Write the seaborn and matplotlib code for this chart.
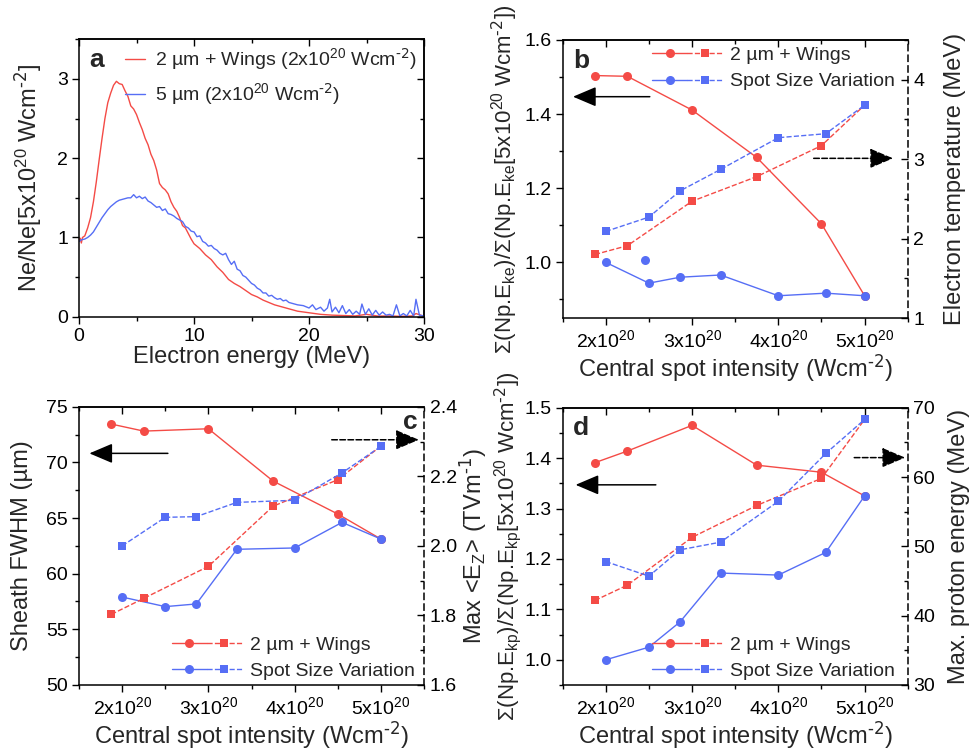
import matplotlib
matplotlib.use("Agg")
import matplotlib.pyplot as plt
import seaborn as sns
from matplotlib.lines import Line2D
from matplotlib.legend_handler import HandlerTuple
from matplotlib.ticker import MultipleLocator

# ---- data ----
# panel a: electron spectra normalised to the 5e20 case
energy_red = [0.0, 0.1, 0.2, 0.3, 0.5, 0.75, 1.0, 1.25, 1.5, 1.75, 2.0, 2.25, 2.5, 2.75, 3.0, 3.25,
              3.5, 3.75, 4.0, 4.25, 4.5, 4.75, 5.0, 5.25, 5.5, 5.75, 6.0, 6.25, 6.5, 6.75, 7.0, 7.25,
              7.5, 7.75, 8.0, 8.25, 8.5, 8.75, 9.0, 9.25, 9.5, 9.75, 10.0, 10.5, 11.0, 11.5, 12.0,
              12.5, 13.0, 13.5, 14.0, 14.5, 15.0, 15.5, 16.0, 16.5, 17.0, 17.5, 18.0, 18.5, 19.0,
              19.5, 20.0, 21.0, 22.0, 23.0, 24.0, 25.0, 26.0, 27.0, 28.0, 29.0, 29.3, 30.0]
ne_red = [0.97, 0.99, 0.93, 1.0, 1.02, 1.12, 1.25, 1.45, 1.7, 1.98, 2.25, 2.5, 2.7, 2.82, 2.92, 2.97,
          2.94, 2.93, 2.85, 2.78, 2.66, 2.62, 2.55, 2.45, 2.36, 2.25, 2.17, 2.05, 1.97, 1.85, 1.68, 1.63,
          1.6, 1.55, 1.45, 1.38, 1.33, 1.25, 1.15, 1.12, 1.05, 0.98, 0.92, 0.86, 0.78, 0.72, 0.63,
          0.56, 0.47, 0.42, 0.38, 0.33, 0.28, 0.25, 0.21, 0.18, 0.15, 0.13, 0.11, 0.09, 0.07,
          0.06, 0.05, 0.03, 0.02, 0.015, 0.01, 0.03, 0.008, 0.01, 0.005, 0.01, 0.04, 0.005]

energy_blue = [0.0, 0.2, 0.5, 0.75, 1.0, 1.25, 1.5, 1.75, 2.0, 2.25, 2.5, 2.75, 3.0, 3.25, 3.5, 3.75,
               4.0, 4.25, 4.5, 4.75, 5.0, 5.25, 5.5, 5.75, 6.0, 6.25, 6.5, 6.75, 7.0, 7.25, 7.5, 7.75,
               8.0, 8.25, 8.5, 8.75, 9.0, 9.25, 9.5, 9.75, 10.0, 10.25, 10.5, 10.75, 11.0, 11.25, 11.5,
               11.75, 12.0, 12.25, 12.5, 12.75, 13.0, 13.25, 13.5, 13.75, 14.0, 14.25, 14.5, 14.75,
               15.0, 15.25, 15.5, 15.75, 16.0, 16.25, 16.5, 16.75, 17.0, 17.25, 17.5, 17.75, 18.0,
               18.25, 18.5, 18.75, 19.0, 19.5, 20.0, 20.3, 20.6, 21.0, 21.3, 21.6, 21.8, 22.0, 22.3,
               22.6, 22.9, 23.2, 23.5, 23.8, 24.1, 24.4, 24.6, 24.9, 25.2, 25.5, 25.8, 26.1, 26.4,
               26.7, 27.0, 27.3, 27.6, 27.9, 28.2, 28.5, 28.8, 29.1, 29.3, 29.6, 30.0]
ne_blue = [0.95, 0.97, 0.98, 1.0, 1.03, 1.07, 1.13, 1.19, 1.25, 1.3, 1.35, 1.39, 1.42, 1.45, 1.47, 1.48,
           1.49, 1.5, 1.5, 1.54, 1.5, 1.52, 1.49, 1.51, 1.46, 1.44, 1.41, 1.38, 1.39, 1.34, 1.36, 1.3,
           1.29, 1.27, 1.24, 1.22, 1.2, 1.14, 1.12, 1.08, 1.07, 1.01, 1.02, 0.95, 0.93, 0.89, 0.9,
           0.86, 0.84, 0.8, 0.78, 0.8, 0.72, 0.66, 0.7, 0.6, 0.58, 0.52, 0.5, 0.46,
           0.42, 0.4, 0.36, 0.34, 0.3, 0.3, 0.26, 0.27, 0.24, 0.22, 0.23, 0.2, 0.21,
           0.18, 0.17, 0.16, 0.15, 0.14, 0.11, 0.15, 0.09, 0.12, 0.07, 0.11, 0.22, 0.06, 0.12,
           0.05, 0.14, 0.04, 0.09, 0.03, 0.07, 0.03, 0.16, 0.03, 0.1, 0.02, 0.08, 0.02, 0.06,
           0.02, 0.03, 0.01, 0.15, 0.01, 0.04, 0.01, 0.08, 0.01, 0.22, 0.02, 0.01]

# intensities (units of 1e20 W/cm2)
int_wings = [1.875, 2.25, 3.0, 3.75, 4.5, 5.0]
int_spot = [2.0, 2.5, 2.86, 3.33, 4.0, 4.55, 5.0]

# panel b
b_energy_wings = [1.504, 1.502, 1.411, 1.283, 1.104, 0.910]
b_energy_spot = [1.0, 0.944, 0.960, 0.966, 0.910, 0.917, 0.910]
b_stray = (2.45, 1.007)
b_temp_wings = [1.80, 1.91, 2.47, 2.78, 3.17, 3.68]
b_temp_spot = [2.09, 2.27, 2.60, 2.87, 3.27, 3.32, 3.68]

# panel c
c_fwhm_wings = [73.44, 72.81, 73.02, 68.32, 65.36, 63.11]
c_fwhm_spot = [57.9, 57.04, 57.28, 62.19, 62.31, 64.61, 63.11]
c_ez_wings = [1.803, 1.849, 1.941, 2.114, 2.190, 2.287]
c_ez_spot = [2.0, 2.082, 2.084, 2.125, 2.131, 2.210, 2.286]

# panel d
d_energy_wings = [1.391, 1.414, 1.465, 1.386, 1.372, 1.325]
d_energy_spot = [1.0, 1.025, 1.075, 1.172, 1.168, 1.213, 1.325]
d_pmax_wings = [42.2, 44.4, 51.3, 55.9, 59.8, 68.3]
d_pmax_spot = [47.8, 45.7, 49.5, 50.6, 56.5, 63.4, 68.3]

x_ticks = [2, 3, 4, 5]
x_tick_labels = ['2x10$^{20}$', '3x10$^{20}$', '4x10$^{20}$', '5x10$^{20}$']

RED = '#F44B46'
BLUE = '#566EF5'
WCM = 'Wcm$^{\\text{-2}}$'

# ---- style ----
sns.set_style('ticks')
plt.rcParams['font.family'] = ['Liberation Sans', 'DejaVu Sans']
plt.rcParams['mathtext.default'] = 'regular'
plt.rcParams['axes.linewidth'] = 1.1
for k in ['xtick.major.width', 'ytick.major.width', 'xtick.minor.width', 'ytick.minor.width']:
    plt.rcParams[k] = 1.0
plt.rcParams['xtick.major.size'] = 5
plt.rcParams['ytick.major.size'] = 5
plt.rcParams['xtick.minor.size'] = 3
plt.rcParams['ytick.minor.size'] = 3
plt.rcParams['xtick.color'] = 'black'
plt.rcParams['ytick.color'] = 'black'
plt.rcParams['axes.edgecolor'] = 'black'

TICK_FS = 14
LABEL_FS = 17
SIGMA_FS = 16
LEG_FS = 14
LETTER_FS = 19

fig = plt.figure(figsize=(9.77, 7.5), dpi=100)
ax_a = fig.add_axes([0.0809, 0.5777, 0.3531, 0.3699])
ax_b = fig.add_axes([0.5759, 0.576, 0.3532, 0.3707])
ax_c = fig.add_axes([0.0809, 0.0867, 0.3531, 0.371])
ax_d = fig.add_axes([0.5759, 0.0867, 0.3532, 0.3697])


def base_ticks(ax, xmin, ymaj, ymin):
    ax.tick_params(which='both', direction='out', labelsize=TICK_FS, top=False, right=False, pad=3)
    ax.xaxis.set_minor_locator(MultipleLocator(xmin))
    ax.yaxis.set_major_locator(MultipleLocator(ymaj))
    ax.yaxis.set_minor_locator(MultipleLocator(ymin))
    top = ax.secondary_xaxis('top')
    top.set_xticks(ax.get_xticks())
    top.xaxis.set_minor_locator(MultipleLocator(xmin))
    top.tick_params(which='both', direction='in', labeltop=False)


def pair_plot(ax, ax2, yw, ys, tw, ts):
    kw = dict(linewidth=1.0, markeredgewidth=0, sort=False, legend=False)
    sns.lineplot(x=int_wings, y=yw, ax=ax, color=RED, marker='o', markersize=6.5, **kw)
    sns.lineplot(x=int_spot, y=ys, ax=ax, color=BLUE, marker='o', markersize=6.5, **kw)
    sns.lineplot(x=int_wings, y=tw, ax=ax2, color=RED, marker='s', markersize=5.5, linestyle='--', **kw)
    sns.lineplot(x=int_spot, y=ts, ax=ax2, color=BLUE, marker='s', markersize=5.5, linestyle='--', **kw)


def pair_legend(ax, loc, anchor):
    hw = (Line2D([], [], color=RED, marker='o', markersize=6.5, markeredgewidth=0, lw=1.0),
          Line2D([], [], color=RED, marker='s', markersize=5.5, markeredgewidth=0, lw=1.0, ls='--'))
    hs = (Line2D([], [], color=BLUE, marker='o', markersize=6.5, markeredgewidth=0, lw=1.0),
          Line2D([], [], color=BLUE, marker='s', markersize=5.5, markeredgewidth=0, lw=1.0, ls='--'))
    ax.legend([hw, hs], ['2 µm + Wings', 'Spot Size Variation'], loc=loc, bbox_to_anchor=anchor,
              handler_map={tuple: HandlerTuple(ndivide=None, pad=0)}, handlelength=3.6,
              handletextpad=0.4, frameon=False, fontsize=LEG_FS, borderaxespad=0, labelspacing=0.45)


def left_label(ax, label, xpos, fs=LABEL_FS):
    ax.set_ylabel(label, fontsize=fs, va='center')
    ax.yaxis.set_label_coords(xpos, 0.5)


def right_axis(ax2, lo, hi, maj, mnr, label, xpos):
    ax2.set_ylim(lo, hi)
    ax2.yaxis.set_major_locator(MultipleLocator(maj))
    ax2.yaxis.set_minor_locator(MultipleLocator(mnr))
    ax2.tick_params(which='both', direction='in', labelsize=TICK_FS, pad=4)
    ax2.spines['right'].set_linestyle((0, (4, 3)))
    for s in ['left', 'top', 'bottom']:
        ax2.spines[s].set_visible(False)
    ax2.set_ylabel(label, fontsize=LABEL_FS, va='center')
    ax2.yaxis.set_label_coords(xpos, 0.5)


def arrow(ax, start, end, dashed=False):
    ax.annotate('', xy=end, xytext=start,
                arrowprops=dict(arrowstyle='-|>,head_length=0.8,head_width=0.34', color='black',
                                lw=1.1, ls='--' if dashed else '-', mutation_scale=18,
                                shrinkA=0, shrinkB=0))


# ---- panel a ----
sns.lineplot(x=energy_red, y=ne_red, ax=ax_a, color=RED, linewidth=1.0, sort=False,
             label='2 µm + Wings (2x10$^{20}$ ' + WCM + ')')
sns.lineplot(x=energy_blue, y=ne_blue, ax=ax_a, color=BLUE, linewidth=1.0, sort=False,
             label='5 µm (2x10$^{20}$ ' + WCM + ')')
ax_a.set_xlim(0, 30)
ax_a.set_ylim(0, 3.5)
ax_a.set_xticks([0, 10, 20, 30])
base_ticks(ax_a, 5, 1, 0.5)
ra = ax_a.secondary_yaxis('right')
ra.yaxis.set_major_locator(MultipleLocator(1))
ra.yaxis.set_minor_locator(MultipleLocator(0.5))
ra.tick_params(which='both', direction='in', labelright=False)
ax_a.set_xlabel('Electron energy (MeV)', fontsize=LABEL_FS, labelpad=1)
left_label(ax_a, 'Ne/Ne[5x10$^{20}$ ' + WCM + ']', -0.148)
ax_a.legend(loc='upper right', bbox_to_anchor=(1.0, 1.0), frameon=False, fontsize=LEG_FS,
            handlelength=1.0, handletextpad=0.5, borderaxespad=0, labelspacing=0.5)
ax_a.text(0.03, 0.925, 'a', transform=ax_a.transAxes, fontsize=LETTER_FS, fontweight='bold', va='center')

# ---- panel b ----
ax_b2 = ax_b.twinx()
pair_plot(ax_b, ax_b2, b_energy_wings, b_energy_spot, b_temp_wings, b_temp_spot)
sns.scatterplot(x=[b_stray[0]], y=[b_stray[1]], ax=ax_b, color=BLUE, s=42, linewidth=0, legend=False)
ax_b.set_xlim(1.5, 5.5)
ax_b.set_ylim(0.85, 1.6)
ax_b.set_xticks(x_ticks)
ax_b.set_xticklabels(x_tick_labels)
base_ticks(ax_b, 0.5, 0.2, 0.1)
ax_b.spines['right'].set_visible(False)
right_axis(ax_b2, 1, 4.5, 1, 0.5, 'Electron temperature (MeV)', 1.137)
ax_b.set_xlabel('Central spot intensity (' + WCM + ')', fontsize=LABEL_FS, labelpad=1)
left_label(ax_b, 'Σ(Np.E$_{ke}$)/Σ(Np.E$_{ke}$[5x10$^{20}$ ' + WCM + '])', -0.167, SIGMA_FS)
arrow(ax_b, (2.51, 1.447), (1.62, 1.447))
arrow(ax_b2, (4.41, 3.01), (5.33, 3.01), dashed=True)
pair_legend(ax_b2, 'upper right', (0.985, 1.005))
ax_b.text(0.03, 0.925, 'b', transform=ax_b.transAxes, fontsize=LETTER_FS, fontweight='bold', va='center')

# ---- panel c ----
ax_c2 = ax_c.twinx()
pair_plot(ax_c, ax_c2, c_fwhm_wings, c_fwhm_spot, c_ez_wings, c_ez_spot)
ax_c.set_xlim(1.5, 5.5)
ax_c.set_ylim(50, 75)
ax_c.set_xticks(x_ticks)
ax_c.set_xticklabels(x_tick_labels)
base_ticks(ax_c, 0.5, 5, 2.5)
ax_c.spines['right'].set_visible(False)
right_axis(ax_c2, 1.6, 2.4, 0.2, 0.1, 'Max <E$_{Z}$> (TVm$^{\\text{-1}}$)', 1.142)
ax_c.set_xlabel('Central spot intensity (' + WCM + ')', fontsize=LABEL_FS, labelpad=1)
left_label(ax_c, 'Sheath FWHM (µm)', -0.165)
arrow(ax_c, (2.53, 70.81), (1.62, 70.81))
arrow(ax_c2, (4.43, 2.305), (5.44, 2.305), dashed=True)
pair_legend(ax_c2, 'lower right', (0.995, -0.01))
ax_c.text(0.96, 0.945, 'c', transform=ax_c.transAxes, fontsize=LETTER_FS, fontweight='bold',
          va='center', ha='center')

# ---- panel d ----
ax_d2 = ax_d.twinx()
pair_plot(ax_d, ax_d2, d_energy_wings, d_energy_spot, d_pmax_wings, d_pmax_spot)
ax_d.set_xlim(1.5, 5.5)
ax_d.set_ylim(0.95, 1.5)
ax_d.set_xticks(x_ticks)
ax_d.set_xticklabels(x_tick_labels)
base_ticks(ax_d, 0.5, 0.1, 0.05)
ax_d.spines['right'].set_visible(False)
right_axis(ax_d2, 30, 70, 10, 5, 'Max. proton energy (MeV)', 1.15)
ax_d.set_xlabel('Central spot intensity (' + WCM + ')', fontsize=LABEL_FS, labelpad=1)
left_label(ax_d, 'Σ(Np.E$_{kp}$)/Σ(Np.E$_{kp}$[5x10$^{20}$ ' + WCM + '])', -0.158, SIGMA_FS)
arrow(ax_d, (2.58, 1.347), (1.65, 1.347))
arrow(ax_d2, (4.88, 62.8), (5.47, 62.8), dashed=True)
pair_legend(ax_d2, 'lower right', (0.985, -0.01))
ax_d.text(0.03, 0.925, 'd', transform=ax_d.transAxes, fontsize=LETTER_FS, fontweight='bold', va='center')

fig.savefig('out.png', dpi=100)
